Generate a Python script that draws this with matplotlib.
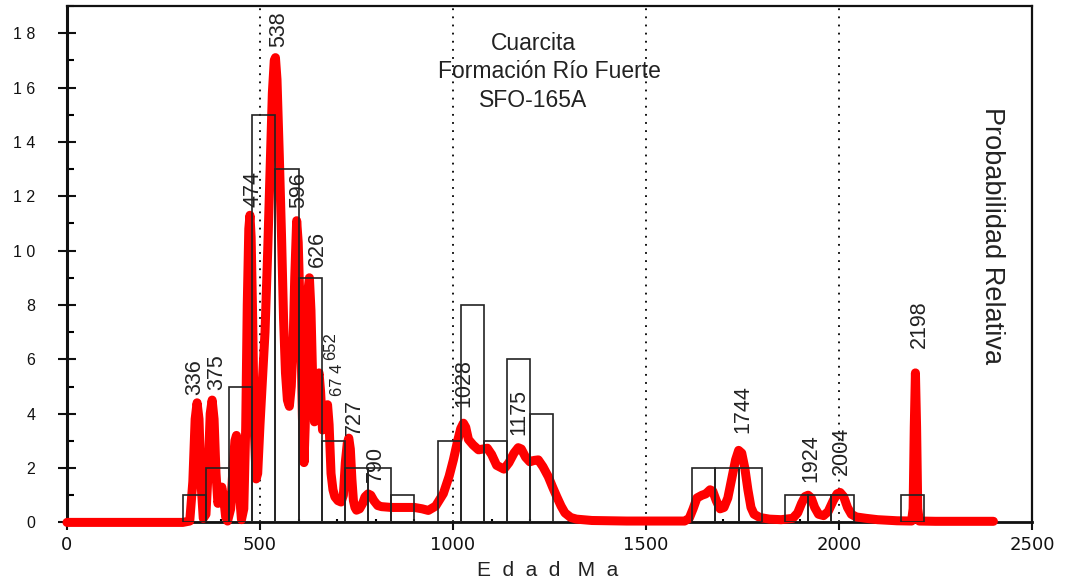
import matplotlib
matplotlib.use("Agg")
import matplotlib.pyplot as plt
from matplotlib.ticker import MultipleLocator, FixedLocator

# ---------------- data ----------------
# histogram (bin left edge in Ma, width 60 Ma) and counts
bin_left = [300, 360, 420, 480, 540, 600, 660, 720, 780, 840,
            960, 1020, 1080, 1140, 1200,
            1620, 1680, 1740, 1860, 1920, 1980, 2160]
bin_count = [1, 2, 5, 15, 13, 9, 3, 2, 2, 1,
             3, 8, 3, 6, 4,
             2, 2, 2, 1, 1, 1, 1]
bin_width = 60

# relative probability curve (age Ma, relative probability)
curve_age = [0, 300, 318, 326, 332, 337, 342, 347, 353, 360, 366, 371, 376, 381, 386,
             391, 396, 401, 406, 411, 416, 424, 430, 435, 439, 443, 447, 452, 458,
             463, 467, 471, 474, 477, 481, 485, 490, 494, 500, 506, 513, 520, 526,
             532, 537, 540, 544, 550, 556, 561, 566, 571, 576, 581, 586, 590, 595,
             599, 603, 606, 610, 614, 617, 621, 624, 628, 632, 636, 641, 646, 650,
             653, 657, 662, 667, 671, 675, 679, 684, 689, 694, 702, 710, 716, 721,
             726, 730, 734, 738, 742, 746, 750, 758, 766, 772, 780, 787, 795, 805,
             815, 840, 870, 900, 920, 936, 955, 975, 990, 1001, 1012, 1020, 1027,
             1033, 1040, 1052, 1066, 1078, 1089, 1100, 1113, 1132, 1145, 1158,
             1169, 1177, 1188, 1199, 1210, 1221, 1233, 1247, 1258, 1269, 1280,
             1290, 1305, 1320, 1360, 1450, 1550, 1600, 1612, 1622, 1632, 1645,
             1655, 1666, 1673, 1682, 1692, 1702, 1712, 1722, 1732, 1740, 1748,
             1756, 1764, 1772, 1780, 1795, 1820, 1850, 1880, 1893, 1903, 1912,
             1920, 1928, 1937, 1947, 1960, 1972, 1985, 1995, 2003, 2012, 2022,
             2032, 2045, 2070, 2100, 2150, 2188, 2192, 2195, 2198, 2201, 2204,
             2208, 2250, 2320, 2400]
curve_prob = [0.0, 0.0, 0.05, 1.5, 3.8, 4.4, 3.8, 1.5, 0.15, 0.3, 2.0, 4.0, 4.5, 3.8, 1.8,
              0.7, 1.0, 1.3, 0.9, 0.2, 0.05, 0.5, 2.0, 3.0, 3.2, 2.6, 1.0, 0.1, 0.5,
              3.5, 8.0, 10.8, 11.3, 10.5, 7.5, 3.5, 1.6, 1.8, 3.6, 5.2, 7.0, 10.0, 12.9,
              15.8, 17.0, 17.1, 16.3, 13.5, 10.4, 7.5, 5.5, 4.5, 4.27, 5.0, 6.7, 9.0, 11.1,
              10.3, 8.2, 6.7, 3.8, 2.2, 3.5, 6.7, 8.5, 9.0, 7.8, 5.5, 3.7, 4.2, 5.3,
              5.5, 4.8, 3.4, 3.6, 4.2, 4.33, 3.6, 1.8, 1.2, 0.94, 0.8, 0.75, 1.0, 2.2,
              2.9, 3.1, 2.7, 1.6, 0.8, 0.55, 0.45, 0.5, 0.7, 0.94, 1.05, 1.0, 0.8, 0.62,
              0.58, 0.55, 0.55, 0.55, 0.5, 0.44, 0.6, 1.06, 1.7, 2.3, 3.0, 3.45, 3.65,
              3.5, 3.05, 2.85, 2.67, 2.7, 2.73, 2.5, 2.1, 1.96, 2.2, 2.55,
              2.75, 2.7, 2.4, 2.23, 2.28, 2.3, 2.05, 1.68, 1.3, 0.94, 0.6,
              0.35, 0.18, 0.12, 0.07, 0.05, 0.05, 0.05, 0.15, 0.5, 0.9, 1.0,
              1.05, 1.2, 1.15, 0.8, 0.5, 0.55, 0.9, 1.6, 2.3, 2.65, 2.55,
              2.0, 1.2, 0.55, 0.3, 0.18, 0.12, 0.1, 0.15, 0.35, 0.7, 0.95,
              1.0, 0.9, 0.55, 0.3, 0.25, 0.4, 0.8, 1.05, 1.1, 0.95, 0.55,
              0.3, 0.2, 0.15, 0.1, 0.06, 0.05, 0.5, 3.5, 5.5, 3.5, 0.5,
              0.05, 0.04, 0.04, 0.04]

# labelled peaks
peak_text = ["336", "375", "474", "538", "596", "626", "652", "67 4", "727", "790",
             "1028", "1175", "1744", "1924", "2004", "2198"]

# axis tick labels
x_ticks = [0, 500, 1000, 1500, 2000, 2500]
x_ticklabels = ["0", "500", "1000", "1500", "2000", "2500"]
y_ticks = [0, 2, 4, 6, 8, 10, 12, 14, 16, 18]
y_ticklabels = ["0", "2", "4", "6", "8", "1 0", "1 2", "1 4", "1 6", "1 8"]
ref_lines = [500, 1000, 1500, 2000]

title_lines = ["Cuarcita", "Formación Río Fuerte", "SFO-165A"]
x_label = "E  d  a  d   M  a"
y_label = "Probabilidad Relativa"

# ---------------- layout (positions / styles) ----------------
peak_label_pos = [(332, 4.69), (388, 4.87), (481, 11.59), (549, 17.5), (601, 11.56),
                  (649, 9.41), (682, 5.98), (702, 4.65), (744, 3.22), (800, 1.5),
                  (1029, 4.26), (1171, 3.22), (1752, 3.29), (1926, 1.49),
                  (2005, 1.75), (2207, 6.42)]
peak_label_size = [15.5, 15.5, 15.5, 15.5, 15.5, 15.5, 12, 12, 15.5, 15.5,
                   15.5, 15.5, 15.5, 15.5, 15.5, 15.5]

FONT = ["Liberation Sans", "DejaVu Sans"]
plt.rcParams["font.family"] = FONT

fig = plt.figure(figsize=(10.66, 5.81), dpi=100)
ax = fig.add_axes([67 / 1066, (581 - 522.4) / 581, (1032 - 67) / 1066, (522.4 - 6) / 581])

# reference dotted lines
for xv in ref_lines:
    ax.axvline(xv, color="black", lw=1.3, linestyle=(0, (1, 3.5)), zorder=1)

# probability curve
ax.plot(curve_age, curve_prob, color="#ff0000", lw=6.5, solid_joinstyle="round",
        solid_capstyle="round", zorder=3, clip_on=False)

# histogram boxes
ax.bar(bin_left, bin_count, width=bin_width, align="edge", fill=False,
       edgecolor="#222222", linewidth=1.2, zorder=4)

# peak labels
for t, (px, py), fs in zip(peak_text, peak_label_pos, peak_label_size):
    ax.text(px, py, t, rotation=90, ha="center", va="bottom", fontsize=fs,
            color="#222222", zorder=5)

# titles
tx = [0.4832, 0.4997, 0.4832]
ty = [0.9148, 0.860, 0.805]
for t, xx, yy in zip(title_lines, tx, ty):
    ax.text(xx, yy, t, transform=ax.transAxes, ha="center", va="baseline",
            fontsize=16.5, color="#222222")

ax.text(0.959, 0.5546, y_label, transform=ax.transAxes, rotation=270,
        ha="center", va="center", fontsize=19.5, color="#222222")

fig.text(548 / 1066, 1 - 576 / 581, x_label, ha="center", va="baseline",
         fontsize=15, color="#222222")

# axes limits & ticks
ax.set_xlim(0, 2500)
ax.set_ylim(0, 19)
ax.xaxis.set_major_locator(FixedLocator(x_ticks))
ax.set_xticklabels(x_ticklabels, family="DejaVu Sans", fontsize=13)
ax.xaxis.set_minor_locator(MultipleLocator(100))
ax.yaxis.set_major_locator(FixedLocator(y_ticks))
ax.set_yticklabels(y_ticklabels, fontsize=11.5)
ax.yaxis.set_minor_locator(MultipleLocator(1))

ax.tick_params(axis="x", which="major", direction="out", length=6, width=1.5, pad=4,
               colors="#111111")
ax.tick_params(axis="x", which="minor", direction="in", length=2.5, width=1.5)
ax.tick_params(axis="y", which="major", direction="inout", length=13.5, width=1.5,
               pad=16, colors="#111111")
ax.tick_params(axis="y", which="minor", direction="in", length=5, width=1.5)
ax.tick_params(top=False, right=False, which="both")

for side, lw in [("left", 2.2), ("bottom", 2.0), ("top", 1.6), ("right", 1.6)]:
    ax.spines[side].set_linewidth(lw)
    ax.spines[side].set_color("#111111")

fig.savefig("out.png", dpi=100)
